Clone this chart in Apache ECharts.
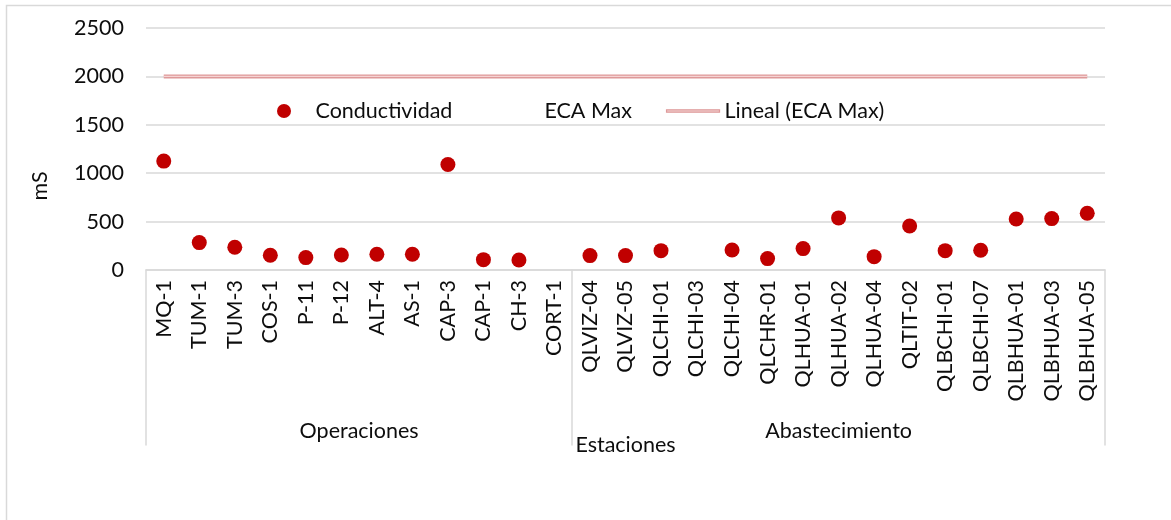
<!DOCTYPE html>
<html><head><meta charset="utf-8">
<script src="https://cdn.jsdelivr.net/npm/echarts@6/dist/echarts.min.js"></script>
<style>html,body{margin:0;padding:0;background:#fff}#c{width:1171px;height:520px}</style>
</head><body><div id="c"></div>
<script>
// ---- data ----
const opStations = ['MQ-1','TUM-1','TUM-3','COS-1','P-11','P-12','ALT-4','AS-1','CAP-3','CAP-1','CH-3','CORT-1'];
const abStations = ['QLVIZ-04','QLVIZ-05','QLCHI-01','QLCHI-03','QLCHI-04','QLCHR-01','QLHUA-01','QLHUA-02','QLHUA-04','QLTIT-02','QLBCHI-01','QLBCHI-07','QLBHUA-01','QLBHUA-03','QLBHUA-05'];
const groupNames = ['Operaciones','Abastecimiento'];
const conductividadOp = [1125,283,235,152,128,155,162,162,1090,107,103,null];
const conductividadAb = [149,149,200,null,207,118,221,538,138,455,200,204,527,531,586];
const ecaMax = [2000,2000,2000,2000,2000,2000,2000,2000,2000,2000,2000,2000,2000,2000,2000,2000,2000,2000,2000,2000,2000,2000,2000,2000,2000,2000,2000];
const yTicks = {min:0, max:2500, interval:500};
const seriesNames = ['Conductividad','ECA Max','Lineal (ECA Max)'];

// ---- layout ----
const FONT = 'Lato';
const FS = 21.5;
const TXT = '#0d0d0d';
const GRIDC = '#d9d9d9';
const TREND_OUT = '#DE9999', TREND_IN = '#F5D4D4';
const plotL = 146, plotR = 1105, plotT = 28, plotB = 270, grpB = 445;
const stations = opStations.concat(abStations);
const conductividad = conductividadOp.concat(conductividadAb);
const plotW = plotR - plotL;
const wA = plotW * opStations.length / stations.length;

const hiddenY = (gi, pos) => ({
  type:'value', gridIndex:gi, position:pos,
  axisLine:{show:true, lineStyle:{color:GRIDC, width:1.5}},
  axisTick:{show:false}, axisLabel:{show:false}, splitLine:{show:false}
});
const grpX = (gi, name) => ({
  type:'category', gridIndex:gi, position:'top', data:[name],
  axisLine:{show:false}, axisTick:{show:false}, splitLine:{show:false},
  axisLabel:{inside:true, margin:150, fontFamily:FONT, fontSize:FS, color:TXT}
});

const chart = echarts.init(document.getElementById('c'), null, {renderer:'canvas'});
chart.setOption({
  animation:false,
  textStyle:{fontFamily:FONT},
  graphic:[{type:'rect', shape:{x:6.5, y:5.5, width:1300, height:700}, style:{fill:'none', stroke:GRIDC, lineWidth:1.5}, silent:true}],
  grid:[
    {left:plotL, top:plotT, width:plotW, height:plotB-plotT, containLabel:false, outerBoundsMode:'none'},
    {left:plotL, top:plotB, width:wA, height:grpB-plotB, containLabel:false, outerBoundsMode:'none'},
    {left:plotL+wA, top:plotB, width:plotW-wA, height:grpB-plotB, containLabel:false, outerBoundsMode:'none'}
  ],
  legend:{
    left:272, top:95, itemWidth:53, itemHeight:14, itemGap:34,
    textStyle:{fontFamily:FONT, fontSize:FS, color:TXT},
    data:[
      {name:seriesNames[0], icon:'circle'},
      {name:seriesNames[1], icon:'none'},
      {name:seriesNames[2], icon:'path://M0,0L53,0L53,2.4L0,2.4Z',
       itemStyle:{color:TREND_IN, borderColor:TREND_OUT, borderWidth:1.2}}
    ]
  },
  xAxis:[
    {type:'category', gridIndex:0, data:stations,
     axisLine:{show:true, lineStyle:{color:GRIDC, width:1.5}}, axisTick:{show:false},
     axisLabel:{rotate:90, margin:10, interval:0, fontFamily:FONT, fontSize:FS, color:TXT},
     name:'Estaciones', nameLocation:'middle', nameGap:164,
     nameTextStyle:{fontFamily:FONT, fontSize:FS, color:TXT}},
    grpX(1, groupNames[0]),
    grpX(2, groupNames[1])
  ],
  yAxis:[
    {type:'value', gridIndex:0, min:yTicks.min, max:yTicks.max, interval:yTicks.interval,
     axisLine:{show:false}, axisTick:{show:false},
     splitLine:{lineStyle:{color:GRIDC, width:1.5}},
     axisLabel:{margin:22, fontFamily:FONT, fontSize:FS, color:TXT, formatter:(v)=>String(v)},
     name:'mS', nameLocation:'middle', nameGap:95,
     nameTextStyle:{fontFamily:FONT, fontSize:FS, color:TXT, padding:[0,74,0,0]}},
    hiddenY(1,'left'),
    hiddenY(2,'left'),
    hiddenY(2,'right')
  ],
  series:[
    {name:seriesNames[1], type:'line', xAxisIndex:0, yAxisIndex:0, data:ecaMax,
     symbol:'none', itemStyle:{color:'#ffffff', opacity:0}, lineStyle:{opacity:0}},
    {name:seriesNames[2], type:'line', xAxisIndex:0, yAxisIndex:0, data:ecaMax,
     symbol:'none', itemStyle:{color:TREND_OUT}, lineStyle:{color:TREND_OUT, width:4}},
    {name:'trend-inner', type:'line', xAxisIndex:0, yAxisIndex:0, data:ecaMax,
     symbol:'none', silent:true, itemStyle:{color:TREND_IN}, lineStyle:{color:TREND_IN, width:1.4}},
    {name:seriesNames[0], type:'scatter', xAxisIndex:0, yAxisIndex:0, data:conductividad,
     symbol:'circle', symbolSize:15, itemStyle:{color:'#C00000', opacity:1}}
  ]
});
</script></body></html>
